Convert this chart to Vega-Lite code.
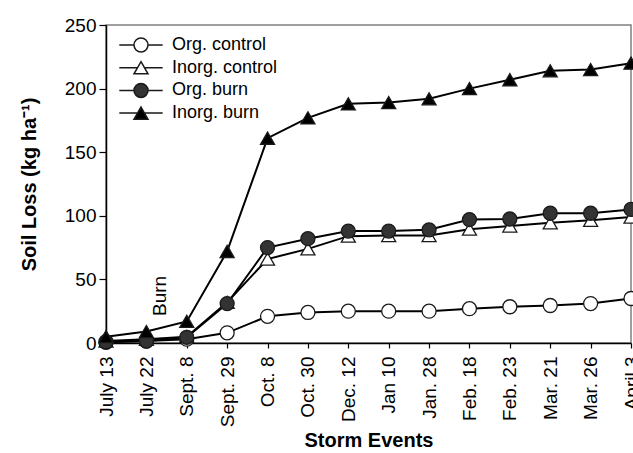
{
  "$schema": "https://vega.github.io/schema/vega-lite/v6.json",
  "autosize": "none",
  "width": 525,
  "height": 318,
  "padding": {"left": 106, "top": 25, "right": 2, "bottom": 110},
  "background": "white",
  "config": {
    "font": "Liberation Sans",
    "view": {"stroke": "#808080", "strokeWidth": 1.5}
  },
  "datasets": {
    "soil": [
      {"date": "July 13", "series": "Org. control", "value": 0.5},
      {"date": "July 22", "series": "Org. control", "value": 1.5},
      {"date": "Sept. 8", "series": "Org. control", "value": 3},
      {"date": "Sept. 29", "series": "Org. control", "value": 8},
      {"date": "Oct. 8", "series": "Org. control", "value": 21},
      {"date": "Oct. 30", "series": "Org. control", "value": 24},
      {"date": "Dec. 12", "series": "Org. control", "value": 25},
      {"date": "Jan 10", "series": "Org. control", "value": 25},
      {"date": "Jan. 28", "series": "Org. control", "value": 25},
      {"date": "Feb. 18", "series": "Org. control", "value": 27},
      {"date": "Feb. 23", "series": "Org. control", "value": 28.5},
      {"date": "Mar. 21", "series": "Org. control", "value": 29.5},
      {"date": "Mar. 26", "series": "Org. control", "value": 31},
      {"date": "April 3", "series": "Org. control", "value": 35},
      {"date": "July 13", "series": "Inorg. control", "value": 1.5},
      {"date": "July 22", "series": "Inorg. control", "value": 3},
      {"date": "Sept. 8", "series": "Inorg. control", "value": 5},
      {"date": "Sept. 29", "series": "Inorg. control", "value": 32},
      {"date": "Oct. 8", "series": "Inorg. control", "value": 66},
      {"date": "Oct. 30", "series": "Inorg. control", "value": 74},
      {"date": "Dec. 12", "series": "Inorg. control", "value": 84},
      {"date": "Jan 10", "series": "Inorg. control", "value": 84.5},
      {"date": "Jan. 28", "series": "Inorg. control", "value": 84.5},
      {"date": "Feb. 18", "series": "Inorg. control", "value": 89.5},
      {"date": "Feb. 23", "series": "Inorg. control", "value": 92},
      {"date": "Mar. 21", "series": "Inorg. control", "value": 94.5},
      {"date": "Mar. 26", "series": "Inorg. control", "value": 96.5},
      {"date": "April 3", "series": "Inorg. control", "value": 99},
      {"date": "July 13", "series": "Org. burn", "value": 1},
      {"date": "July 22", "series": "Org. burn", "value": 1.5},
      {"date": "Sept. 8", "series": "Org. burn", "value": 4.5},
      {"date": "Sept. 29", "series": "Org. burn", "value": 31},
      {"date": "Oct. 8", "series": "Org. burn", "value": 75},
      {"date": "Oct. 30", "series": "Org. burn", "value": 82},
      {"date": "Dec. 12", "series": "Org. burn", "value": 88},
      {"date": "Jan 10", "series": "Org. burn", "value": 88},
      {"date": "Jan. 28", "series": "Org. burn", "value": 89},
      {"date": "Feb. 18", "series": "Org. burn", "value": 97},
      {"date": "Feb. 23", "series": "Org. burn", "value": 97.5},
      {"date": "Mar. 21", "series": "Org. burn", "value": 102},
      {"date": "Mar. 26", "series": "Org. burn", "value": 102},
      {"date": "April 3", "series": "Org. burn", "value": 105},
      {"date": "July 13", "series": "Inorg. burn", "value": 5},
      {"date": "July 22", "series": "Inorg. burn", "value": 9},
      {"date": "Sept. 8", "series": "Inorg. burn", "value": 17},
      {"date": "Sept. 29", "series": "Inorg. burn", "value": 72},
      {"date": "Oct. 8", "series": "Inorg. burn", "value": 161},
      {"date": "Oct. 30", "series": "Inorg. burn", "value": 177},
      {"date": "Dec. 12", "series": "Inorg. burn", "value": 188},
      {"date": "Jan 10", "series": "Inorg. burn", "value": 189},
      {"date": "Jan. 28", "series": "Inorg. burn", "value": 192},
      {"date": "Feb. 18", "series": "Inorg. burn", "value": 200},
      {"date": "Feb. 23", "series": "Inorg. burn", "value": 207},
      {"date": "Mar. 21", "series": "Inorg. burn", "value": 214},
      {"date": "Mar. 26", "series": "Inorg. burn", "value": 215},
      {"date": "April 3", "series": "Inorg. burn", "value": 220}
    ],
    "note": [
      {"date": "July 22", "value": 37, "text": "Burn"}
    ]
  },
  "encoding": {
    "x": {
      "field": "date",
      "type": "ordinal",
      "sort": ["July 13","July 22","Sept. 8","Sept. 29","Oct. 8","Oct. 30","Dec. 12","Jan 10","Jan. 28","Feb. 18","Feb. 23","Mar. 21","Mar. 26","April 3"],
      "scale": {"type": "point", "padding": 0},
      "axis": {
        "title": "Storm Events",
        "titleFont": "Liberation Sans",
        "titleFontSize": 20,
        "titleFontWeight": "bold",
        "titleColor": "black",
        "titlePadding": 4,
        "labelAngle": 270,
        "labelFont": "Liberation Sans",
        "labelFontSize": 19,
        "labelColor": "black",
        "labelPadding": 8,
        "labelOverlap": false,
        "domainColor": "black",
        "domainWidth": 1.5,
        "tickColor": "black",
        "tickSize": 5,
        "tickWidth": 1.2,
        "grid": false
      }
    },
    "y": {
      "field": "value",
      "type": "quantitative",
      "scale": {"domain": [0, 250], "nice": false},
      "axis": {
        "title": "Soil Loss (kg ha⁻¹)",
        "titleFont": "Liberation Sans",
        "titleFontSize": 20,
        "titleFontWeight": "bold",
        "titleColor": "black",
        "titlePadding": 25,
        "values": [0, 50, 100, 150, 200, 250],
        "labelFont": "Liberation Sans",
        "labelFontSize": 19,
        "labelColor": "black",
        "labelPadding": 3,
        "domainColor": "black",
        "domainWidth": 1.5,
        "tickColor": "black",
        "tickSize": 7,
        "tickWidth": 1.2,
        "grid": false
      }
    }
  },
  "layer": [
    {
      "data": {"name": "soil"},
      "mark": {"type": "line", "color": "black", "strokeWidth": 2},
      "encoding": {"detail": {"field": "series"}}
    },
    {
      "data": {"name": "soil"},
      "transform": [{"filter": "datum.series === 'Org. control'"}],
      "mark": {"type": "point", "shape": "circle", "filled": true, "fill": "white", "size": 196, "stroke": "#1a1a1a", "strokeWidth": 1.3, "opacity": 1}
    },
    {
      "data": {"name": "soil"},
      "transform": [{"filter": "datum.series === 'Inorg. control'"}],
      "mark": {"type": "point", "shape": "triangle-up", "filled": true, "fill": "white", "size": 196, "stroke": "#1a1a1a", "strokeWidth": 1.3, "opacity": 1}
    },
    {
      "data": {"name": "soil"},
      "transform": [{"filter": "datum.series === 'Org. burn'"}],
      "mark": {"type": "point", "shape": "circle", "filled": true, "fill": "#333333", "size": 196, "stroke": "#1a1a1a", "strokeWidth": 1.3, "opacity": 1}
    },
    {
      "data": {"name": "soil"},
      "transform": [{"filter": "datum.series === 'Inorg. burn'"}],
      "mark": {"type": "point", "shape": "triangle-up", "filled": true, "fill": "black", "size": 196, "stroke": "#1a1a1a", "strokeWidth": 1.3, "opacity": 1}
    },
    {
      "data": {"name": "soil"},
      "mark": {"type": "point", "filled": false, "size": 196, "stroke": "#1a1a1a", "strokeWidth": 1.3, "opacity": 0},
      "encoding": {
        "shape": {
          "field": "series",
          "type": "nominal",
          "scale": {
            "domain": ["Org. control", "Inorg. control", "Org. burn", "Inorg. burn"],
            "range": [
              "M -3.1 0 L -1 0 M 1 0 L 3.1 0 M -1 0 A 1 1 0 1 1 1 0 A 1 1 0 1 1 -1 0 Z",
              "M -3.1 0 L -0.5 0 M 0.5 0 L 3.1 0 M 0 -0.866 L 1 0.866 L -1 0.866 Z",
              "M -3.1 0 L -1 0 M 1 0 L 3.1 0 M -1 0 A 1 1 0 1 1 1 0 A 1 1 0 1 1 -1 0 Z",
              "M -3.1 0 L -0.5 0 M 0.5 0 L 3.1 0 M 0 -0.866 L 1 0.866 L -1 0.866 Z"
            ]
          },
          "legend": {
            "title": null,
            "orient": "none",
            "legendX": 26,
            "legendY": 11,
            "padding": 0,
            "symbolSize": 196,
            "symbolOpacity": 1,
            "labelFont": "Liberation Sans",
            "labelFontSize": 18,
            "labelColor": "black",
            "labelOffset": 22,
            "rowPadding": 2.7,
            "encode": {
              "symbols": {
                "stroke": {"value": "#1a1a1a"},
                "strokeWidth": {"value": 1.3},
                "opacity": {"value": 1}
              }
            }
          }
        },
        "fill": {
          "field": "series",
          "type": "nominal",
          "scale": {
            "domain": ["Org. control", "Inorg. control", "Org. burn", "Inorg. burn"],
            "range": ["white", "white", "#333333", "black"]
          },
          "legend": {
            "title": null,
            "orient": "none",
            "legendX": 26,
            "legendY": 11,
            "padding": 0,
            "symbolSize": 196,
            "symbolOpacity": 1,
            "labelFont": "Liberation Sans",
            "labelFontSize": 18,
            "labelColor": "black",
            "labelOffset": 22,
            "rowPadding": 2.7,
            "encode": {
              "symbols": {
                "stroke": {"value": "#1a1a1a"},
                "strokeWidth": {"value": 1.3},
                "opacity": {"value": 1}
              }
            }
          }
        }
      }
    },
    {
      "data": {"name": "note"},
      "mark": {"type": "text", "angle": 270, "align": "center", "baseline": "middle", "dy": 14, "font": "Liberation Sans", "fontSize": 19, "color": "black"},
      "encoding": {"text": {"field": "text"}}
    }
  ]
}
